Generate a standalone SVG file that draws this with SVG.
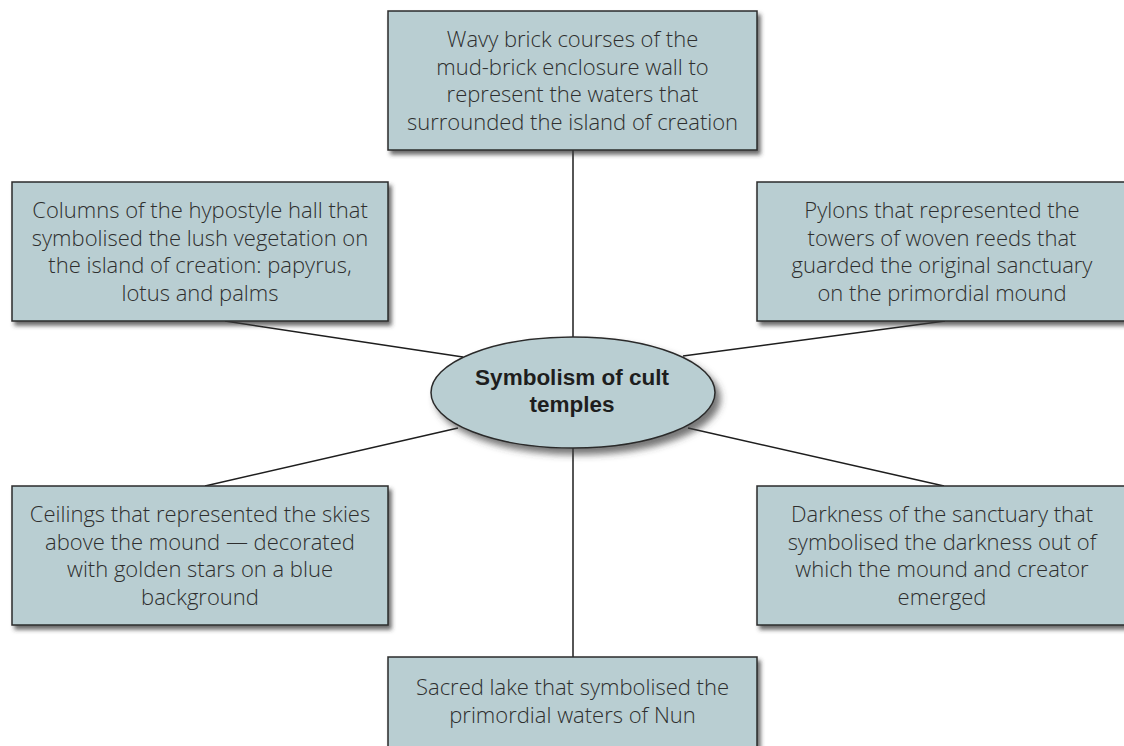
<svg xmlns="http://www.w3.org/2000/svg" width="1124" height="746" viewBox="0 0 1124 746">
  <style>
    .box { fill: #b9ced2; stroke: #2b2b2b; stroke-width: 1.5; filter: url(#shadow); }
    .hub { fill: #b9ced2; stroke: #2b2b2b; stroke-width: 1.5; filter: url(#shadowHub); }
    .lbl { font-family: "Open Sans", "Liberation Sans", Arial, sans-serif; font-size: 22px; font-weight: 300; fill: #2e2e2e; text-anchor: middle; }
    .hubLbl { font-family: "Liberation Sans", Arial, sans-serif; font-size: 22.5px; font-weight: bold; fill: #1e1e1e; text-anchor: middle; }
    .link { stroke: #1e1e1e; stroke-width: 1.5; fill: none; }
  </style>
  <defs>
    <filter id="shadow" x="-10%" y="-10%" width="125%" height="130%">
      <feDropShadow dx="3" dy="4" stdDeviation="2.2" flood-color="#3a3a3a" flood-opacity="0.75"/>
    </filter>
    <filter id="shadowHub" x="-10%" y="-15%" width="125%" height="140%">
      <feDropShadow dx="5" dy="6" stdDeviation="3.5" flood-color="#3a3a3a" flood-opacity="0.7"/>
    </filter>
  </defs>
  <rect width="1124" height="746" fill="#ffffff"/>

  <g id="connectors">
    <line class="link" x1="573" y1="150" x2="573" y2="337"/>
    <line class="link" x1="573" y1="448" x2="573" y2="657"/>
    <line class="link" x1="225" y1="321" x2="463" y2="357"/>
    <line class="link" x1="205" y1="486" x2="458" y2="428"/>
    <line class="link" x1="945" y1="321" x2="683" y2="356"/>
    <line class="link" x1="944" y1="486" x2="688" y2="428"/>
  </g>

  <g id="hub">
    <ellipse class="hub" cx="573" cy="392.5" rx="142" ry="55.5"/>
    <text class="hubLbl" x="572" y="385">Symbolism of cult</text>
    <text class="hubLbl" x="572" y="412">temples</text>
  </g>

  <g id="node-enclosure-wall">
    <rect class="box" x="388" y="11" width="369" height="139"/>
    <text class="lbl" x="572.5" y="47">Wavy brick courses of the</text>
    <text class="lbl" x="572.5" y="74.5">mud-brick enclosure wall to</text>
    <text class="lbl" x="572.5" y="102">represent the waters that</text>
    <text class="lbl" x="572.5" y="129.5">surrounded the island of creation</text>
  </g>

  <g id="node-columns">
    <rect class="box" x="12" y="182" width="376" height="139"/>
    <text class="lbl" x="200" y="218">Columns of the hypostyle hall that</text>
    <text class="lbl" x="200" y="245.5">symbolised the lush vegetation on</text>
    <text class="lbl" x="200" y="273">the island of creation: papyrus,</text>
    <text class="lbl" x="200" y="300.5">lotus and palms</text>
  </g>

  <g id="node-pylons">
    <rect class="box" x="757" y="182" width="376" height="139"/>
    <text class="lbl" x="942" y="218">Pylons that represented the</text>
    <text class="lbl" x="942" y="245.5">towers of woven reeds that</text>
    <text class="lbl" x="942" y="273">guarded the original sanctuary</text>
    <text class="lbl" x="942" y="300.5">on the primordial mound</text>
  </g>

  <g id="node-ceilings">
    <rect class="box" x="12" y="486" width="376" height="139"/>
    <text class="lbl" x="200" y="522">Ceilings that represented the skies</text>
    <text class="lbl" x="200" y="549.5">above the mound — decorated</text>
    <text class="lbl" x="200" y="577">with golden stars on a blue</text>
    <text class="lbl" x="200" y="604.5">background</text>
  </g>

  <g id="node-darkness">
    <rect class="box" x="757" y="486" width="376" height="139"/>
    <text class="lbl" x="942" y="522">Darkness of the sanctuary that</text>
    <text class="lbl" x="942" y="549.5">symbolised the darkness out of</text>
    <text class="lbl" x="942" y="577">which the mound and creator</text>
    <text class="lbl" x="942" y="604.5">emerged</text>
  </g>

  <g id="node-sacred-lake">
    <rect class="box" x="388" y="657" width="369" height="110"/>
    <text class="lbl" x="572.5" y="695">Sacred lake that symbolised the</text>
    <text class="lbl" x="572.5" y="723">primordial waters of Nun</text>
  </g>
</svg>
